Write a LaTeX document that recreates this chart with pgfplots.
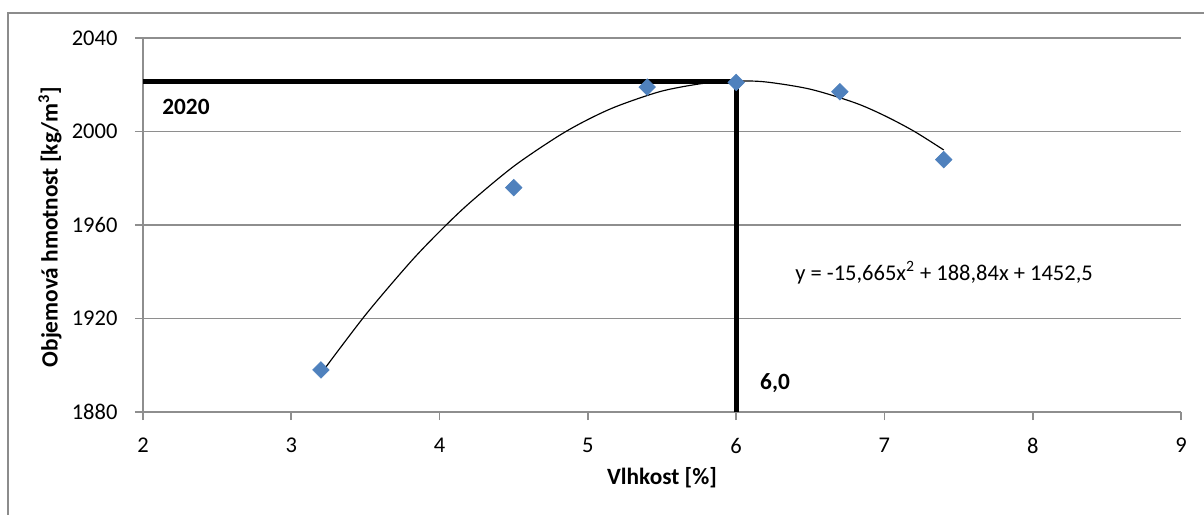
\documentclass[border=0pt]{standalone}
\usepackage{fontspec}
\setmainfont{Carlito}
\usepackage{pgfplots}
\pgfplotsset{compat=1.18}
\definecolor{gridgray}{HTML}{8E8E8E}
\definecolor{framegray}{HTML}{8C8C8C}
\definecolor{mblue}{HTML}{4F81BD}
\begin{document}
\begin{tikzpicture}
\path[use as bounding box] (-85.8pt,-61.2pt) rectangle (636.6pt,247.2pt);
\draw[framegray, line width=1.1pt] (-81pt,-80pt) -- (-81pt,239.4pt) -- (660pt,239.4pt);
\begin{axis}[
  at={(0pt,0pt)}, anchor=south west,
  scale only axis, width=622.8pt, height=224.4pt,
  xmin=2, xmax=9, ymin=1880, ymax=2040,
  xtick={2,3,4,5,6,7,8,9}, ytick={1880,1920,1960,2000,2040},
  axis lines=left, axis line style={-, gridgray, line width=1pt},
  ymajorgrids, grid style={gridgray, line width=1pt},
  tick align=outside, tick pos=left, major tick length=4.8pt,
  tick style={gridgray, line width=1pt},
  /pgf/number format/assume math mode=true,
  /pgf/number format/1000 sep={},
  ticklabel style={font=\fontsize{13.5}{16}\selectfont, text=black},
  yticklabel style={xshift=-7pt},
  xticklabel style={yshift=-7.5pt},
  xlabel={\textbf{Vlhkost [\%]}},
  ylabel={\textbf{Objemová hmotnost [kg/m\textsuperscript{3}]}},
  xlabel style={at={(axis description cs:0.5,-0.1765)}, anchor=center, font=\fontsize{14}{16}\selectfont},
  ylabel style={at={(axis description cs:-0.0896,0.495)}, anchor=center, font=\fontsize{14}{16}\selectfont},
  clip=false,
]
\addplot[only marks, mark=square*, mark size=3.5pt, mark options={rotate=45, fill=mblue, draw=mblue}]
  coordinates {(3.2,1898) (4.5,1976) (5.4,2019) (6.0,2021) (6.7,2017) (7.4,1988)};
\addplot[black, line width=0.7pt, smooth, no marks] coordinates {
  (3.2,1896.4) (3.5,1921.5) (3.8,1943.9) (4.0,1957.2) (4.2,1969.3) (4.5,1985.1)
  (4.8,1998.0) (5.0,2005.1) (5.2,2010.9) (5.5,2017.3) (5.8,2020.8) (6.0,2021.6)
  (6.2,2021.2) (6.5,2018.1) (6.8,2012.3) (7.0,2006.8) (7.2,2000.1) (7.4,1992.1)};
\addplot[black, line width=3pt, no marks] coordinates {(2,2021.2) (6.0,2021.2)};
\addplot[black, line width=3pt, no marks] coordinates {(6.0,1880) (6.0,2022.4)};
\node[anchor=west, font=\bfseries\fontsize{14}{16}\selectfont, inner sep=0pt] at (axis cs:2.128,2010.5) {2020};
\node[anchor=west, font=\bfseries\fontsize{14}{16}\selectfont, inner sep=0pt] at (axis cs:6.16,1892.4) {6,0};
\node[anchor=west, font=\fontsize{13.5}{16}\selectfont, inner sep=0pt] at (axis cs:6.397,1939.5) {y = -15,665x\textsuperscript{2} + 188,84x + 1452,5};
\end{axis}
\end{tikzpicture}
\end{document}
